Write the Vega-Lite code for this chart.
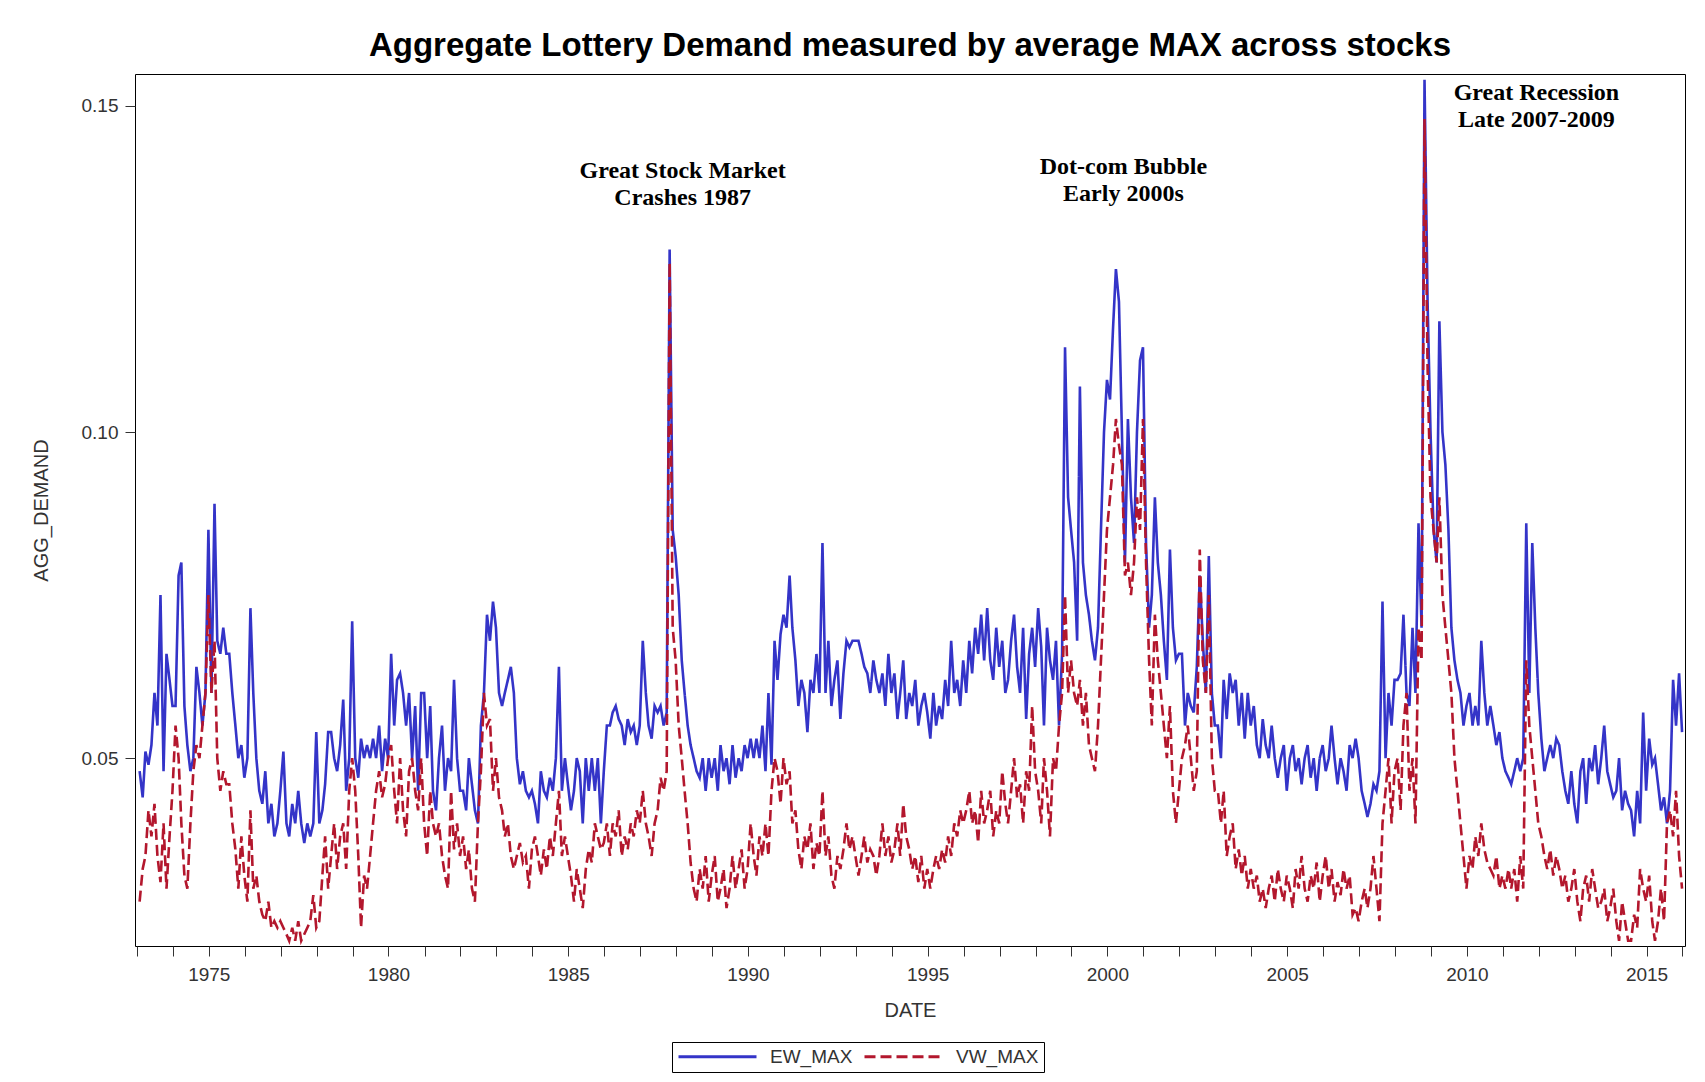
{
"$schema": "https://vega.github.io/schema/vega-lite/v6.json",
"width": 1550, "height": 872,
"autosize": {"type": "none"},
"padding": {"left": 135, "top": 74, "right": 20, "bottom": 136},
"background": "white",
"title": {"text": "Aggregate Lottery Demand measured by average MAX across stocks", "font": "Liberation Sans", "fontWeight": "bold", "fontSize": 33, "color": "#000", "anchor": "middle", "baseline": "alphabetic", "offset": -15},
"config": {
  "view": {"stroke": "#000", "strokeWidth": 1},
  "axis": {"grid": false, "domain": false, "labelFont": "Liberation Sans", "labelFontSize": 19, "labelColor": "#333", "tickColor": "#333", "tickSize": 10, "labelPadding": 7, "titleFont": "Liberation Sans", "titleFontSize": 20, "titleFontWeight": "normal", "titleColor": "#333"},
  "legend": {"orient": "none", "legendX": 537, "legendY": 968, "direction": "horizontal", "symbolType": "stroke", "symbolSize": 6084, "symbolStrokeWidth": 3, "clipHeight": 19, "labelFont": "Liberation Sans", "labelFontSize": 19, "labelColor": "#333", "labelOffset": 12, "columnPadding": 10, "padding": 5, "strokeColor": "#000", "fillColor": "#fff", "cornerRadius": 0}
},
"layer": [
{
"data": {"values": [
{"d":"1973-01-28","EW_MAX":0.048,"VW_MAX":0.028},{"d":"1973-02-28","EW_MAX":0.044,"VW_MAX":0.033},{"d":"1973-03-28","EW_MAX":0.051,"VW_MAX":0.035},{"d":"1973-04-28","EW_MAX":0.049,"VW_MAX":0.042},{"d":"1973-05-28","EW_MAX":0.052,"VW_MAX":0.038},{"d":"1973-06-28","EW_MAX":0.060,"VW_MAX":0.043},{"d":"1973-07-28","EW_MAX":0.055,"VW_MAX":0.035},{"d":"1973-08-28","EW_MAX":0.075,"VW_MAX":0.031},{"d":"1973-09-28","EW_MAX":0.048,"VW_MAX":0.040},{"d":"1973-10-28","EW_MAX":0.066,"VW_MAX":0.030},{"d":"1973-11-28","EW_MAX":0.062,"VW_MAX":0.038},{"d":"1973-12-28","EW_MAX":0.058,"VW_MAX":0.045},
{"d":"1974-01-28","EW_MAX":0.058,"VW_MAX":0.055},{"d":"1974-02-28","EW_MAX":0.078,"VW_MAX":0.050},{"d":"1974-03-28","EW_MAX":0.080,"VW_MAX":0.040},{"d":"1974-04-28","EW_MAX":0.058,"VW_MAX":0.032},{"d":"1974-05-28","EW_MAX":0.052,"VW_MAX":0.030},{"d":"1974-06-28","EW_MAX":0.048,"VW_MAX":0.040},{"d":"1974-07-28","EW_MAX":0.050,"VW_MAX":0.048},{"d":"1974-08-28","EW_MAX":0.064,"VW_MAX":0.052},{"d":"1974-09-28","EW_MAX":0.060,"VW_MAX":0.050},{"d":"1974-10-28","EW_MAX":0.055,"VW_MAX":0.055},{"d":"1974-11-28","EW_MAX":0.060,"VW_MAX":0.060},{"d":"1974-12-28","EW_MAX":0.085,"VW_MAX":0.075},
{"d":"1975-01-28","EW_MAX":0.060,"VW_MAX":0.060},{"d":"1975-02-28","EW_MAX":0.089,"VW_MAX":0.068},{"d":"1975-03-28","EW_MAX":0.068,"VW_MAX":0.050},{"d":"1975-04-28","EW_MAX":0.066,"VW_MAX":0.045},{"d":"1975-05-28","EW_MAX":0.070,"VW_MAX":0.048},{"d":"1975-06-28","EW_MAX":0.066,"VW_MAX":0.046},{"d":"1975-07-28","EW_MAX":0.066,"VW_MAX":0.046},{"d":"1975-08-28","EW_MAX":0.060,"VW_MAX":0.040},{"d":"1975-09-28","EW_MAX":0.055,"VW_MAX":0.036},{"d":"1975-10-28","EW_MAX":0.050,"VW_MAX":0.030},{"d":"1975-11-28","EW_MAX":0.052,"VW_MAX":0.038},{"d":"1975-12-28","EW_MAX":0.047,"VW_MAX":0.032},
{"d":"1976-01-28","EW_MAX":0.050,"VW_MAX":0.028},{"d":"1976-02-28","EW_MAX":0.073,"VW_MAX":0.042},{"d":"1976-03-28","EW_MAX":0.060,"VW_MAX":0.030},{"d":"1976-04-28","EW_MAX":0.050,"VW_MAX":0.032},{"d":"1976-05-28","EW_MAX":0.045,"VW_MAX":0.028},{"d":"1976-06-28","EW_MAX":0.043,"VW_MAX":0.026},{"d":"1976-07-28","EW_MAX":0.048,"VW_MAX":0.025},{"d":"1976-08-28","EW_MAX":0.040,"VW_MAX":0.028},{"d":"1976-09-28","EW_MAX":0.043,"VW_MAX":0.024},{"d":"1976-10-28","EW_MAX":0.038,"VW_MAX":0.025},{"d":"1976-11-28","EW_MAX":0.040,"VW_MAX":0.024},{"d":"1976-12-28","EW_MAX":0.045,"VW_MAX":0.025},
{"d":"1977-01-28","EW_MAX":0.051,"VW_MAX":0.024},{"d":"1977-02-28","EW_MAX":0.040,"VW_MAX":0.023},{"d":"1977-03-28","EW_MAX":0.038,"VW_MAX":0.022},{"d":"1977-04-28","EW_MAX":0.043,"VW_MAX":0.024},{"d":"1977-05-28","EW_MAX":0.040,"VW_MAX":0.022},{"d":"1977-06-28","EW_MAX":0.045,"VW_MAX":0.025},{"d":"1977-07-28","EW_MAX":0.040,"VW_MAX":0.022},{"d":"1977-08-28","EW_MAX":0.037,"VW_MAX":0.023},{"d":"1977-09-28","EW_MAX":0.040,"VW_MAX":0.024},{"d":"1977-10-28","EW_MAX":0.038,"VW_MAX":0.025},{"d":"1977-11-28","EW_MAX":0.040,"VW_MAX":0.029},{"d":"1977-12-28","EW_MAX":0.054,"VW_MAX":0.024},
{"d":"1978-01-28","EW_MAX":0.040,"VW_MAX":0.025},{"d":"1978-02-28","EW_MAX":0.042,"VW_MAX":0.032},{"d":"1978-03-28","EW_MAX":0.046,"VW_MAX":0.038},{"d":"1978-04-28","EW_MAX":0.054,"VW_MAX":0.030},{"d":"1978-05-28","EW_MAX":0.054,"VW_MAX":0.035},{"d":"1978-06-28","EW_MAX":0.050,"VW_MAX":0.040},{"d":"1978-07-28","EW_MAX":0.048,"VW_MAX":0.033},{"d":"1978-08-28","EW_MAX":0.052,"VW_MAX":0.038},{"d":"1978-09-28","EW_MAX":0.059,"VW_MAX":0.040},{"d":"1978-10-28","EW_MAX":0.045,"VW_MAX":0.033},{"d":"1978-11-28","EW_MAX":0.050,"VW_MAX":0.045},{"d":"1978-12-28","EW_MAX":0.071,"VW_MAX":0.050},
{"d":"1979-01-28","EW_MAX":0.050,"VW_MAX":0.045},{"d":"1979-02-28","EW_MAX":0.047,"VW_MAX":0.035},{"d":"1979-03-28","EW_MAX":0.053,"VW_MAX":0.024},{"d":"1979-04-28","EW_MAX":0.050,"VW_MAX":0.032},{"d":"1979-05-28","EW_MAX":0.052,"VW_MAX":0.030},{"d":"1979-06-28","EW_MAX":0.050,"VW_MAX":0.035},{"d":"1979-07-28","EW_MAX":0.053,"VW_MAX":0.040},{"d":"1979-08-28","EW_MAX":0.050,"VW_MAX":0.045},{"d":"1979-09-28","EW_MAX":0.055,"VW_MAX":0.048},{"d":"1979-10-28","EW_MAX":0.048,"VW_MAX":0.044},{"d":"1979-11-28","EW_MAX":0.053,"VW_MAX":0.046},{"d":"1979-12-28","EW_MAX":0.050,"VW_MAX":0.050},
{"d":"1980-01-28","EW_MAX":0.066,"VW_MAX":0.052},{"d":"1980-02-28","EW_MAX":0.055,"VW_MAX":0.045},{"d":"1980-03-28","EW_MAX":0.062,"VW_MAX":0.040},{"d":"1980-04-28","EW_MAX":0.063,"VW_MAX":0.050},{"d":"1980-05-28","EW_MAX":0.060,"VW_MAX":0.042},{"d":"1980-06-28","EW_MAX":0.055,"VW_MAX":0.038},{"d":"1980-07-28","EW_MAX":0.060,"VW_MAX":0.048},{"d":"1980-08-28","EW_MAX":0.050,"VW_MAX":0.050},{"d":"1980-09-28","EW_MAX":0.058,"VW_MAX":0.045},{"d":"1980-10-28","EW_MAX":0.045,"VW_MAX":0.042},{"d":"1980-11-28","EW_MAX":0.060,"VW_MAX":0.050},{"d":"1980-12-28","EW_MAX":0.060,"VW_MAX":0.040},
{"d":"1981-01-28","EW_MAX":0.050,"VW_MAX":0.035},{"d":"1981-02-28","EW_MAX":0.058,"VW_MAX":0.045},{"d":"1981-03-28","EW_MAX":0.045,"VW_MAX":0.040},{"d":"1981-04-28","EW_MAX":0.042,"VW_MAX":0.038},{"d":"1981-05-28","EW_MAX":0.050,"VW_MAX":0.040},{"d":"1981-06-28","EW_MAX":0.055,"VW_MAX":0.035},{"d":"1981-07-28","EW_MAX":0.045,"VW_MAX":0.032},{"d":"1981-08-28","EW_MAX":0.050,"VW_MAX":0.030},{"d":"1981-09-28","EW_MAX":0.048,"VW_MAX":0.045},{"d":"1981-10-28","EW_MAX":0.062,"VW_MAX":0.036},{"d":"1981-11-28","EW_MAX":0.050,"VW_MAX":0.040},{"d":"1981-12-28","EW_MAX":0.045,"VW_MAX":0.035},
{"d":"1982-01-28","EW_MAX":0.045,"VW_MAX":0.038},{"d":"1982-02-28","EW_MAX":0.042,"VW_MAX":0.033},{"d":"1982-03-28","EW_MAX":0.050,"VW_MAX":0.036},{"d":"1982-04-28","EW_MAX":0.046,"VW_MAX":0.030},{"d":"1982-05-28","EW_MAX":0.042,"VW_MAX":0.028},{"d":"1982-06-28","EW_MAX":0.040,"VW_MAX":0.040},{"d":"1982-07-28","EW_MAX":0.055,"VW_MAX":0.048},{"d":"1982-08-28","EW_MAX":0.060,"VW_MAX":0.060},{"d":"1982-09-28","EW_MAX":0.072,"VW_MAX":0.055},{"d":"1982-10-28","EW_MAX":0.068,"VW_MAX":0.056},{"d":"1982-11-28","EW_MAX":0.074,"VW_MAX":0.045},{"d":"1982-12-28","EW_MAX":0.070,"VW_MAX":0.050},
{"d":"1983-01-28","EW_MAX":0.060,"VW_MAX":0.044},{"d":"1983-02-28","EW_MAX":0.058,"VW_MAX":0.042},{"d":"1983-03-28","EW_MAX":0.060,"VW_MAX":0.038},{"d":"1983-04-28","EW_MAX":0.062,"VW_MAX":0.040},{"d":"1983-05-28","EW_MAX":0.064,"VW_MAX":0.035},{"d":"1983-06-28","EW_MAX":0.060,"VW_MAX":0.033},{"d":"1983-07-28","EW_MAX":0.050,"VW_MAX":0.035},{"d":"1983-08-28","EW_MAX":0.046,"VW_MAX":0.037},{"d":"1983-09-28","EW_MAX":0.048,"VW_MAX":0.034},{"d":"1983-10-28","EW_MAX":0.045,"VW_MAX":0.035},{"d":"1983-11-28","EW_MAX":0.044,"VW_MAX":0.030},{"d":"1983-12-28","EW_MAX":0.045,"VW_MAX":0.036},
{"d":"1984-01-28","EW_MAX":0.043,"VW_MAX":0.038},{"d":"1984-02-28","EW_MAX":0.040,"VW_MAX":0.035},{"d":"1984-03-28","EW_MAX":0.048,"VW_MAX":0.032},{"d":"1984-04-28","EW_MAX":0.045,"VW_MAX":0.036},{"d":"1984-05-28","EW_MAX":0.044,"VW_MAX":0.033},{"d":"1984-06-28","EW_MAX":0.047,"VW_MAX":0.038},{"d":"1984-07-28","EW_MAX":0.045,"VW_MAX":0.035},{"d":"1984-08-28","EW_MAX":0.050,"VW_MAX":0.040},{"d":"1984-09-28","EW_MAX":0.064,"VW_MAX":0.045},{"d":"1984-10-28","EW_MAX":0.045,"VW_MAX":0.035},{"d":"1984-11-28","EW_MAX":0.050,"VW_MAX":0.038},{"d":"1984-12-28","EW_MAX":0.046,"VW_MAX":0.035},
{"d":"1985-01-28","EW_MAX":0.042,"VW_MAX":0.032},{"d":"1985-02-28","EW_MAX":0.045,"VW_MAX":0.028},{"d":"1985-03-28","EW_MAX":0.050,"VW_MAX":0.033},{"d":"1985-04-28","EW_MAX":0.048,"VW_MAX":0.030},{"d":"1985-05-28","EW_MAX":0.040,"VW_MAX":0.027},{"d":"1985-06-28","EW_MAX":0.050,"VW_MAX":0.033},{"d":"1985-07-28","EW_MAX":0.045,"VW_MAX":0.036},{"d":"1985-08-28","EW_MAX":0.050,"VW_MAX":0.034},{"d":"1985-09-28","EW_MAX":0.045,"VW_MAX":0.040},{"d":"1985-10-28","EW_MAX":0.050,"VW_MAX":0.038},{"d":"1985-11-28","EW_MAX":0.040,"VW_MAX":0.036},{"d":"1985-12-28","EW_MAX":0.048,"VW_MAX":0.037},
{"d":"1986-01-28","EW_MAX":0.055,"VW_MAX":0.040},{"d":"1986-02-28","EW_MAX":0.055,"VW_MAX":0.035},{"d":"1986-03-28","EW_MAX":0.057,"VW_MAX":0.040},{"d":"1986-04-28","EW_MAX":0.058,"VW_MAX":0.038},{"d":"1986-05-28","EW_MAX":0.056,"VW_MAX":0.042},{"d":"1986-06-28","EW_MAX":0.055,"VW_MAX":0.035},{"d":"1986-07-28","EW_MAX":0.052,"VW_MAX":0.038},{"d":"1986-08-28","EW_MAX":0.056,"VW_MAX":0.036},{"d":"1986-09-28","EW_MAX":0.054,"VW_MAX":0.040},{"d":"1986-10-28","EW_MAX":0.055,"VW_MAX":0.038},{"d":"1986-11-28","EW_MAX":0.052,"VW_MAX":0.042},{"d":"1986-12-28","EW_MAX":0.055,"VW_MAX":0.040},
{"d":"1987-01-28","EW_MAX":0.068,"VW_MAX":0.045},{"d":"1987-02-28","EW_MAX":0.060,"VW_MAX":0.040},{"d":"1987-03-28","EW_MAX":0.055,"VW_MAX":0.038},{"d":"1987-04-28","EW_MAX":0.053,"VW_MAX":0.035},{"d":"1987-05-28","EW_MAX":0.058,"VW_MAX":0.040},{"d":"1987-06-28","EW_MAX":0.057,"VW_MAX":0.042},{"d":"1987-07-28","EW_MAX":0.058,"VW_MAX":0.047},{"d":"1987-08-28","EW_MAX":0.055,"VW_MAX":0.045},{"d":"1987-09-28","EW_MAX":0.057,"VW_MAX":0.048},{"d":"1987-10-28","EW_MAX":0.128,"VW_MAX":0.126},{"d":"1987-11-28","EW_MAX":0.085,"VW_MAX":0.070},{"d":"1987-12-28","EW_MAX":0.081,"VW_MAX":0.065},
{"d":"1988-01-28","EW_MAX":0.075,"VW_MAX":0.055},{"d":"1988-02-28","EW_MAX":0.065,"VW_MAX":0.050},{"d":"1988-03-28","EW_MAX":0.060,"VW_MAX":0.045},{"d":"1988-04-28","EW_MAX":0.055,"VW_MAX":0.040},{"d":"1988-05-28","EW_MAX":0.052,"VW_MAX":0.034},{"d":"1988-06-28","EW_MAX":0.050,"VW_MAX":0.030},{"d":"1988-07-28","EW_MAX":0.048,"VW_MAX":0.028},{"d":"1988-08-28","EW_MAX":0.047,"VW_MAX":0.033},{"d":"1988-09-28","EW_MAX":0.050,"VW_MAX":0.030},{"d":"1988-10-28","EW_MAX":0.045,"VW_MAX":0.035},{"d":"1988-11-28","EW_MAX":0.050,"VW_MAX":0.028},{"d":"1988-12-28","EW_MAX":0.047,"VW_MAX":0.032},
{"d":"1989-01-28","EW_MAX":0.050,"VW_MAX":0.035},{"d":"1989-02-28","EW_MAX":0.045,"VW_MAX":0.028},{"d":"1989-03-28","EW_MAX":0.052,"VW_MAX":0.030},{"d":"1989-04-28","EW_MAX":0.048,"VW_MAX":0.033},{"d":"1989-05-28","EW_MAX":0.050,"VW_MAX":0.027},{"d":"1989-06-28","EW_MAX":0.046,"VW_MAX":0.030},{"d":"1989-07-28","EW_MAX":0.052,"VW_MAX":0.035},{"d":"1989-08-28","EW_MAX":0.047,"VW_MAX":0.030},{"d":"1989-09-28","EW_MAX":0.050,"VW_MAX":0.033},{"d":"1989-10-28","EW_MAX":0.048,"VW_MAX":0.036},{"d":"1989-11-28","EW_MAX":0.052,"VW_MAX":0.030},{"d":"1989-12-28","EW_MAX":0.050,"VW_MAX":0.033},
{"d":"1990-01-28","EW_MAX":0.053,"VW_MAX":0.040},{"d":"1990-02-28","EW_MAX":0.050,"VW_MAX":0.035},{"d":"1990-03-28","EW_MAX":0.053,"VW_MAX":0.032},{"d":"1990-04-28","EW_MAX":0.050,"VW_MAX":0.038},{"d":"1990-05-28","EW_MAX":0.055,"VW_MAX":0.035},{"d":"1990-06-28","EW_MAX":0.048,"VW_MAX":0.040},{"d":"1990-07-28","EW_MAX":0.060,"VW_MAX":0.035},{"d":"1990-08-28","EW_MAX":0.049,"VW_MAX":0.045},{"d":"1990-09-28","EW_MAX":0.068,"VW_MAX":0.050},{"d":"1990-10-28","EW_MAX":0.062,"VW_MAX":0.048},{"d":"1990-11-28","EW_MAX":0.069,"VW_MAX":0.043},{"d":"1990-12-28","EW_MAX":0.072,"VW_MAX":0.050},
{"d":"1991-01-28","EW_MAX":0.070,"VW_MAX":0.046},{"d":"1991-02-28","EW_MAX":0.078,"VW_MAX":0.048},{"d":"1991-03-28","EW_MAX":0.070,"VW_MAX":0.040},{"d":"1991-04-28","EW_MAX":0.065,"VW_MAX":0.042},{"d":"1991-05-28","EW_MAX":0.058,"VW_MAX":0.036},{"d":"1991-06-28","EW_MAX":0.062,"VW_MAX":0.033},{"d":"1991-07-28","EW_MAX":0.060,"VW_MAX":0.038},{"d":"1991-08-28","EW_MAX":0.054,"VW_MAX":0.036},{"d":"1991-09-28","EW_MAX":0.062,"VW_MAX":0.040},{"d":"1991-10-28","EW_MAX":0.060,"VW_MAX":0.033},{"d":"1991-11-28","EW_MAX":0.066,"VW_MAX":0.037},{"d":"1991-12-28","EW_MAX":0.060,"VW_MAX":0.035},
{"d":"1992-01-28","EW_MAX":0.083,"VW_MAX":0.045},{"d":"1992-02-28","EW_MAX":0.060,"VW_MAX":0.035},{"d":"1992-03-28","EW_MAX":0.068,"VW_MAX":0.038},{"d":"1992-04-28","EW_MAX":0.058,"VW_MAX":0.032},{"d":"1992-05-28","EW_MAX":0.062,"VW_MAX":0.030},{"d":"1992-06-28","EW_MAX":0.065,"VW_MAX":0.035},{"d":"1992-07-28","EW_MAX":0.056,"VW_MAX":0.033},{"d":"1992-08-28","EW_MAX":0.063,"VW_MAX":0.036},{"d":"1992-09-28","EW_MAX":0.068,"VW_MAX":0.040},{"d":"1992-10-28","EW_MAX":0.067,"VW_MAX":0.036},{"d":"1992-11-28","EW_MAX":0.068,"VW_MAX":0.038},{"d":"1992-12-28","EW_MAX":0.068,"VW_MAX":0.035},
{"d":"1993-01-28","EW_MAX":0.068,"VW_MAX":0.032},{"d":"1993-02-28","EW_MAX":0.066,"VW_MAX":0.035},{"d":"1993-03-28","EW_MAX":0.064,"VW_MAX":0.038},{"d":"1993-04-28","EW_MAX":0.063,"VW_MAX":0.034},{"d":"1993-05-28","EW_MAX":0.060,"VW_MAX":0.036},{"d":"1993-06-28","EW_MAX":0.065,"VW_MAX":0.035},{"d":"1993-07-28","EW_MAX":0.062,"VW_MAX":0.032},{"d":"1993-08-28","EW_MAX":0.060,"VW_MAX":0.035},{"d":"1993-09-28","EW_MAX":0.063,"VW_MAX":0.040},{"d":"1993-10-28","EW_MAX":0.058,"VW_MAX":0.035},{"d":"1993-11-28","EW_MAX":0.066,"VW_MAX":0.038},{"d":"1993-12-28","EW_MAX":0.060,"VW_MAX":0.034},
{"d":"1994-01-28","EW_MAX":0.063,"VW_MAX":0.036},{"d":"1994-02-28","EW_MAX":0.056,"VW_MAX":0.040},{"d":"1994-03-28","EW_MAX":0.060,"VW_MAX":0.035},{"d":"1994-04-28","EW_MAX":0.065,"VW_MAX":0.043},{"d":"1994-05-28","EW_MAX":0.056,"VW_MAX":0.038},{"d":"1994-06-28","EW_MAX":0.060,"VW_MAX":0.036},{"d":"1994-07-28","EW_MAX":0.058,"VW_MAX":0.033},{"d":"1994-08-28","EW_MAX":0.062,"VW_MAX":0.035},{"d":"1994-09-28","EW_MAX":0.055,"VW_MAX":0.031},{"d":"1994-10-28","EW_MAX":0.058,"VW_MAX":0.035},{"d":"1994-11-28","EW_MAX":0.060,"VW_MAX":0.030},{"d":"1994-12-28","EW_MAX":0.057,"VW_MAX":0.033},
{"d":"1995-01-28","EW_MAX":0.053,"VW_MAX":0.030},{"d":"1995-02-28","EW_MAX":0.060,"VW_MAX":0.033},{"d":"1995-03-28","EW_MAX":0.055,"VW_MAX":0.035},{"d":"1995-04-28","EW_MAX":0.058,"VW_MAX":0.033},{"d":"1995-05-28","EW_MAX":0.056,"VW_MAX":0.036},{"d":"1995-06-28","EW_MAX":0.062,"VW_MAX":0.034},{"d":"1995-07-28","EW_MAX":0.058,"VW_MAX":0.038},{"d":"1995-08-28","EW_MAX":0.068,"VW_MAX":0.035},{"d":"1995-09-28","EW_MAX":0.060,"VW_MAX":0.040},{"d":"1995-10-28","EW_MAX":0.062,"VW_MAX":0.038},{"d":"1995-11-28","EW_MAX":0.058,"VW_MAX":0.042},{"d":"1995-12-28","EW_MAX":0.065,"VW_MAX":0.040},
{"d":"1996-01-28","EW_MAX":0.060,"VW_MAX":0.042},{"d":"1996-02-28","EW_MAX":0.068,"VW_MAX":0.045},{"d":"1996-03-28","EW_MAX":0.063,"VW_MAX":0.040},{"d":"1996-04-28","EW_MAX":0.070,"VW_MAX":0.042},{"d":"1996-05-28","EW_MAX":0.066,"VW_MAX":0.037},{"d":"1996-06-28","EW_MAX":0.072,"VW_MAX":0.045},{"d":"1996-07-28","EW_MAX":0.065,"VW_MAX":0.040},{"d":"1996-08-28","EW_MAX":0.073,"VW_MAX":0.042},{"d":"1996-09-28","EW_MAX":0.065,"VW_MAX":0.045},{"d":"1996-10-28","EW_MAX":0.062,"VW_MAX":0.038},{"d":"1996-11-28","EW_MAX":0.070,"VW_MAX":0.042},{"d":"1996-12-28","EW_MAX":0.064,"VW_MAX":0.040},
{"d":"1997-01-28","EW_MAX":0.068,"VW_MAX":0.048},{"d":"1997-02-28","EW_MAX":0.060,"VW_MAX":0.043},{"d":"1997-03-28","EW_MAX":0.062,"VW_MAX":0.040},{"d":"1997-04-28","EW_MAX":0.068,"VW_MAX":0.045},{"d":"1997-05-28","EW_MAX":0.072,"VW_MAX":0.050},{"d":"1997-06-28","EW_MAX":0.064,"VW_MAX":0.044},{"d":"1997-07-28","EW_MAX":0.060,"VW_MAX":0.046},{"d":"1997-08-28","EW_MAX":0.070,"VW_MAX":0.040},{"d":"1997-09-28","EW_MAX":0.056,"VW_MAX":0.048},{"d":"1997-10-28","EW_MAX":0.066,"VW_MAX":0.045},{"d":"1997-11-28","EW_MAX":0.070,"VW_MAX":0.058},{"d":"1997-12-28","EW_MAX":0.064,"VW_MAX":0.048},
{"d":"1998-01-28","EW_MAX":0.073,"VW_MAX":0.045},{"d":"1998-02-28","EW_MAX":0.067,"VW_MAX":0.040},{"d":"1998-03-28","EW_MAX":0.055,"VW_MAX":0.050},{"d":"1998-04-28","EW_MAX":0.070,"VW_MAX":0.045},{"d":"1998-05-28","EW_MAX":0.065,"VW_MAX":0.038},{"d":"1998-06-28","EW_MAX":0.062,"VW_MAX":0.050},{"d":"1998-07-28","EW_MAX":0.068,"VW_MAX":0.048},{"d":"1998-08-28","EW_MAX":0.055,"VW_MAX":0.055},{"d":"1998-09-28","EW_MAX":0.066,"VW_MAX":0.060},{"d":"1998-10-28","EW_MAX":0.113,"VW_MAX":0.075},{"d":"1998-11-28","EW_MAX":0.090,"VW_MAX":0.060},{"d":"1998-12-28","EW_MAX":0.085,"VW_MAX":0.065},
{"d":"1999-01-28","EW_MAX":0.080,"VW_MAX":0.060},{"d":"1999-02-28","EW_MAX":0.068,"VW_MAX":0.058},{"d":"1999-03-28","EW_MAX":0.107,"VW_MAX":0.062},{"d":"1999-04-28","EW_MAX":0.080,"VW_MAX":0.055},{"d":"1999-05-28","EW_MAX":0.075,"VW_MAX":0.060},{"d":"1999-06-28","EW_MAX":0.072,"VW_MAX":0.052},{"d":"1999-07-28","EW_MAX":0.068,"VW_MAX":0.050},{"d":"1999-08-28","EW_MAX":0.065,"VW_MAX":0.048},{"d":"1999-09-28","EW_MAX":0.070,"VW_MAX":0.055},{"d":"1999-10-28","EW_MAX":0.085,"VW_MAX":0.065},{"d":"1999-11-28","EW_MAX":0.100,"VW_MAX":0.075},{"d":"1999-12-28","EW_MAX":0.108,"VW_MAX":0.085},
{"d":"2000-01-28","EW_MAX":0.105,"VW_MAX":0.090},{"d":"2000-02-28","EW_MAX":0.116,"VW_MAX":0.095},{"d":"2000-03-28","EW_MAX":0.125,"VW_MAX":0.102},{"d":"2000-04-28","EW_MAX":0.120,"VW_MAX":0.098},{"d":"2000-05-28","EW_MAX":0.100,"VW_MAX":0.095},{"d":"2000-06-28","EW_MAX":0.080,"VW_MAX":0.078},{"d":"2000-07-28","EW_MAX":0.102,"VW_MAX":0.080},{"d":"2000-08-28","EW_MAX":0.090,"VW_MAX":0.075},{"d":"2000-09-28","EW_MAX":0.083,"VW_MAX":0.080},{"d":"2000-10-28","EW_MAX":0.100,"VW_MAX":0.090},{"d":"2000-11-28","EW_MAX":0.111,"VW_MAX":0.085},{"d":"2000-12-28","EW_MAX":0.113,"VW_MAX":0.102},
{"d":"2001-01-28","EW_MAX":0.083,"VW_MAX":0.080},{"d":"2001-02-28","EW_MAX":0.070,"VW_MAX":0.065},{"d":"2001-03-28","EW_MAX":0.075,"VW_MAX":0.055},{"d":"2001-04-28","EW_MAX":0.090,"VW_MAX":0.072},{"d":"2001-05-28","EW_MAX":0.080,"VW_MAX":0.065},{"d":"2001-06-28","EW_MAX":0.075,"VW_MAX":0.060},{"d":"2001-07-28","EW_MAX":0.068,"VW_MAX":0.055},{"d":"2001-08-28","EW_MAX":0.062,"VW_MAX":0.050},{"d":"2001-09-28","EW_MAX":0.082,"VW_MAX":0.058},{"d":"2001-10-28","EW_MAX":0.070,"VW_MAX":0.045},{"d":"2001-11-28","EW_MAX":0.065,"VW_MAX":0.040},{"d":"2001-12-28","EW_MAX":0.066,"VW_MAX":0.045},
{"d":"2002-01-28","EW_MAX":0.066,"VW_MAX":0.050},{"d":"2002-02-28","EW_MAX":0.055,"VW_MAX":0.052},{"d":"2002-03-28","EW_MAX":0.060,"VW_MAX":0.055},{"d":"2002-04-28","EW_MAX":0.058,"VW_MAX":0.050},{"d":"2002-05-28","EW_MAX":0.057,"VW_MAX":0.045},{"d":"2002-06-28","EW_MAX":0.064,"VW_MAX":0.048},{"d":"2002-07-28","EW_MAX":0.078,"VW_MAX":0.082},{"d":"2002-08-28","EW_MAX":0.068,"VW_MAX":0.065},{"d":"2002-09-28","EW_MAX":0.060,"VW_MAX":0.060},{"d":"2002-10-28","EW_MAX":0.081,"VW_MAX":0.075},{"d":"2002-11-28","EW_MAX":0.060,"VW_MAX":0.050},{"d":"2002-12-28","EW_MAX":0.055,"VW_MAX":0.045},
{"d":"2003-01-28","EW_MAX":0.055,"VW_MAX":0.045},{"d":"2003-02-28","EW_MAX":0.050,"VW_MAX":0.040},{"d":"2003-03-28","EW_MAX":0.062,"VW_MAX":0.045},{"d":"2003-04-28","EW_MAX":0.056,"VW_MAX":0.035},{"d":"2003-05-28","EW_MAX":0.063,"VW_MAX":0.038},{"d":"2003-06-28","EW_MAX":0.060,"VW_MAX":0.040},{"d":"2003-07-28","EW_MAX":0.062,"VW_MAX":0.033},{"d":"2003-08-28","EW_MAX":0.055,"VW_MAX":0.036},{"d":"2003-09-28","EW_MAX":0.060,"VW_MAX":0.032},{"d":"2003-10-28","EW_MAX":0.053,"VW_MAX":0.035},{"d":"2003-11-28","EW_MAX":0.060,"VW_MAX":0.030},{"d":"2003-12-28","EW_MAX":0.055,"VW_MAX":0.033},
{"d":"2004-01-28","EW_MAX":0.058,"VW_MAX":0.030},{"d":"2004-02-28","EW_MAX":0.052,"VW_MAX":0.032},{"d":"2004-03-28","EW_MAX":0.050,"VW_MAX":0.028},{"d":"2004-04-28","EW_MAX":0.056,"VW_MAX":0.030},{"d":"2004-05-28","EW_MAX":0.052,"VW_MAX":0.027},{"d":"2004-06-28","EW_MAX":0.050,"VW_MAX":0.030},{"d":"2004-07-28","EW_MAX":0.055,"VW_MAX":0.032},{"d":"2004-08-28","EW_MAX":0.050,"VW_MAX":0.028},{"d":"2004-09-28","EW_MAX":0.047,"VW_MAX":0.033},{"d":"2004-10-28","EW_MAX":0.050,"VW_MAX":0.030},{"d":"2004-11-28","EW_MAX":0.052,"VW_MAX":0.028},{"d":"2004-12-28","EW_MAX":0.045,"VW_MAX":0.032},
{"d":"2005-01-28","EW_MAX":0.050,"VW_MAX":0.030},{"d":"2005-02-28","EW_MAX":0.052,"VW_MAX":0.027},{"d":"2005-03-28","EW_MAX":0.048,"VW_MAX":0.033},{"d":"2005-04-28","EW_MAX":0.050,"VW_MAX":0.030},{"d":"2005-05-28","EW_MAX":0.046,"VW_MAX":0.035},{"d":"2005-06-28","EW_MAX":0.050,"VW_MAX":0.030},{"d":"2005-07-28","EW_MAX":0.052,"VW_MAX":0.028},{"d":"2005-08-28","EW_MAX":0.047,"VW_MAX":0.032},{"d":"2005-09-28","EW_MAX":0.050,"VW_MAX":0.030},{"d":"2005-10-28","EW_MAX":0.045,"VW_MAX":0.034},{"d":"2005-11-28","EW_MAX":0.050,"VW_MAX":0.028},{"d":"2005-12-28","EW_MAX":0.052,"VW_MAX":0.032},
{"d":"2006-01-28","EW_MAX":0.048,"VW_MAX":0.035},{"d":"2006-02-28","EW_MAX":0.050,"VW_MAX":0.030},{"d":"2006-03-28","EW_MAX":0.055,"VW_MAX":0.033},{"d":"2006-04-28","EW_MAX":0.050,"VW_MAX":0.028},{"d":"2006-05-28","EW_MAX":0.046,"VW_MAX":0.031},{"d":"2006-06-28","EW_MAX":0.050,"VW_MAX":0.029},{"d":"2006-07-28","EW_MAX":0.048,"VW_MAX":0.033},{"d":"2006-08-28","EW_MAX":0.045,"VW_MAX":0.030},{"d":"2006-09-28","EW_MAX":0.052,"VW_MAX":0.032},{"d":"2006-10-28","EW_MAX":0.050,"VW_MAX":0.026},{"d":"2006-11-28","EW_MAX":0.053,"VW_MAX":0.027},{"d":"2006-12-28","EW_MAX":0.050,"VW_MAX":0.025},
{"d":"2007-01-28","EW_MAX":0.045,"VW_MAX":0.028},{"d":"2007-02-28","EW_MAX":0.043,"VW_MAX":0.030},{"d":"2007-03-28","EW_MAX":0.041,"VW_MAX":0.027},{"d":"2007-04-28","EW_MAX":0.043,"VW_MAX":0.030},{"d":"2007-05-28","EW_MAX":0.046,"VW_MAX":0.035},{"d":"2007-06-28","EW_MAX":0.045,"VW_MAX":0.030},{"d":"2007-07-28","EW_MAX":0.048,"VW_MAX":0.025},{"d":"2007-08-28","EW_MAX":0.074,"VW_MAX":0.040},{"d":"2007-09-28","EW_MAX":0.050,"VW_MAX":0.045},{"d":"2007-10-28","EW_MAX":0.060,"VW_MAX":0.050},{"d":"2007-11-28","EW_MAX":0.055,"VW_MAX":0.040},{"d":"2007-12-28","EW_MAX":0.062,"VW_MAX":0.048},
{"d":"2008-01-28","EW_MAX":0.062,"VW_MAX":0.050},{"d":"2008-02-28","EW_MAX":0.063,"VW_MAX":0.042},{"d":"2008-03-28","EW_MAX":0.072,"VW_MAX":0.055},{"d":"2008-04-28","EW_MAX":0.060,"VW_MAX":0.060},{"d":"2008-05-28","EW_MAX":0.058,"VW_MAX":0.045},{"d":"2008-06-28","EW_MAX":0.070,"VW_MAX":0.050},{"d":"2008-07-28","EW_MAX":0.060,"VW_MAX":0.040},{"d":"2008-08-28","EW_MAX":0.086,"VW_MAX":0.070},{"d":"2008-09-28","EW_MAX":0.070,"VW_MAX":0.065},{"d":"2008-10-28","EW_MAX":0.154,"VW_MAX":0.148},{"d":"2008-11-28","EW_MAX":0.120,"VW_MAX":0.110},{"d":"2008-12-28","EW_MAX":0.100,"VW_MAX":0.090},
{"d":"2009-01-28","EW_MAX":0.085,"VW_MAX":0.085},{"d":"2009-02-28","EW_MAX":0.080,"VW_MAX":0.080},{"d":"2009-03-28","EW_MAX":0.117,"VW_MAX":0.090},{"d":"2009-04-28","EW_MAX":0.100,"VW_MAX":0.075},{"d":"2009-05-28","EW_MAX":0.095,"VW_MAX":0.070},{"d":"2009-06-28","EW_MAX":0.085,"VW_MAX":0.065},{"d":"2009-07-28","EW_MAX":0.070,"VW_MAX":0.060},{"d":"2009-08-28","EW_MAX":0.065,"VW_MAX":0.050},{"d":"2009-09-28","EW_MAX":0.062,"VW_MAX":0.045},{"d":"2009-10-28","EW_MAX":0.060,"VW_MAX":0.040},{"d":"2009-11-28","EW_MAX":0.055,"VW_MAX":0.035},{"d":"2009-12-28","EW_MAX":0.058,"VW_MAX":0.030},
{"d":"2010-01-28","EW_MAX":0.060,"VW_MAX":0.035},{"d":"2010-02-28","EW_MAX":0.055,"VW_MAX":0.033},{"d":"2010-03-28","EW_MAX":0.058,"VW_MAX":0.038},{"d":"2010-04-28","EW_MAX":0.055,"VW_MAX":0.035},{"d":"2010-05-28","EW_MAX":0.068,"VW_MAX":0.040},{"d":"2010-06-28","EW_MAX":0.060,"VW_MAX":0.036},{"d":"2010-07-28","EW_MAX":0.055,"VW_MAX":0.034},{"d":"2010-08-28","EW_MAX":0.058,"VW_MAX":0.033},{"d":"2010-09-28","EW_MAX":0.055,"VW_MAX":0.032},{"d":"2010-10-28","EW_MAX":0.052,"VW_MAX":0.035},{"d":"2010-11-28","EW_MAX":0.054,"VW_MAX":0.030},{"d":"2010-12-28","EW_MAX":0.050,"VW_MAX":0.032},
{"d":"2011-01-28","EW_MAX":0.048,"VW_MAX":0.030},{"d":"2011-02-28","EW_MAX":0.047,"VW_MAX":0.033},{"d":"2011-03-28","EW_MAX":0.046,"VW_MAX":0.030},{"d":"2011-04-28","EW_MAX":0.048,"VW_MAX":0.033},{"d":"2011-05-28","EW_MAX":0.050,"VW_MAX":0.028},{"d":"2011-06-28","EW_MAX":0.048,"VW_MAX":0.035},{"d":"2011-07-28","EW_MAX":0.050,"VW_MAX":0.030},{"d":"2011-08-28","EW_MAX":0.086,"VW_MAX":0.065},{"d":"2011-09-28","EW_MAX":0.060,"VW_MAX":0.055},{"d":"2011-10-28","EW_MAX":0.083,"VW_MAX":0.050},{"d":"2011-11-28","EW_MAX":0.070,"VW_MAX":0.045},{"d":"2011-12-28","EW_MAX":0.060,"VW_MAX":0.040},
{"d":"2012-01-28","EW_MAX":0.053,"VW_MAX":0.038},{"d":"2012-02-28","EW_MAX":0.048,"VW_MAX":0.035},{"d":"2012-03-28","EW_MAX":0.050,"VW_MAX":0.033},{"d":"2012-04-28","EW_MAX":0.052,"VW_MAX":0.036},{"d":"2012-05-28","EW_MAX":0.050,"VW_MAX":0.032},{"d":"2012-06-28","EW_MAX":0.053,"VW_MAX":0.035},{"d":"2012-07-28","EW_MAX":0.052,"VW_MAX":0.033},{"d":"2012-08-28","EW_MAX":0.048,"VW_MAX":0.030},{"d":"2012-09-28","EW_MAX":0.045,"VW_MAX":0.032},{"d":"2012-10-28","EW_MAX":0.043,"VW_MAX":0.028},{"d":"2012-11-28","EW_MAX":0.048,"VW_MAX":0.030},{"d":"2012-12-28","EW_MAX":0.043,"VW_MAX":0.033},
{"d":"2013-01-28","EW_MAX":0.040,"VW_MAX":0.028},{"d":"2013-02-28","EW_MAX":0.048,"VW_MAX":0.025},{"d":"2013-03-28","EW_MAX":0.050,"VW_MAX":0.030},{"d":"2013-04-28","EW_MAX":0.043,"VW_MAX":0.032},{"d":"2013-05-28","EW_MAX":0.050,"VW_MAX":0.028},{"d":"2013-06-28","EW_MAX":0.048,"VW_MAX":0.033},{"d":"2013-07-28","EW_MAX":0.052,"VW_MAX":0.030},{"d":"2013-08-28","EW_MAX":0.046,"VW_MAX":0.027},{"d":"2013-09-28","EW_MAX":0.050,"VW_MAX":0.028},{"d":"2013-10-28","EW_MAX":0.055,"VW_MAX":0.030},{"d":"2013-11-28","EW_MAX":0.048,"VW_MAX":0.025},{"d":"2013-12-28","EW_MAX":0.046,"VW_MAX":0.027},
{"d":"2014-01-28","EW_MAX":0.044,"VW_MAX":0.030},{"d":"2014-02-28","EW_MAX":0.045,"VW_MAX":0.025},{"d":"2014-03-28","EW_MAX":0.050,"VW_MAX":0.022},{"d":"2014-04-28","EW_MAX":0.042,"VW_MAX":0.028},{"d":"2014-05-28","EW_MAX":0.045,"VW_MAX":0.025},{"d":"2014-06-28","EW_MAX":0.043,"VW_MAX":0.022},{"d":"2014-07-28","EW_MAX":0.042,"VW_MAX":0.022},{"d":"2014-08-28","EW_MAX":0.038,"VW_MAX":0.026},{"d":"2014-09-28","EW_MAX":0.045,"VW_MAX":0.024},{"d":"2014-10-28","EW_MAX":0.040,"VW_MAX":0.033},{"d":"2014-11-28","EW_MAX":0.057,"VW_MAX":0.030},{"d":"2014-12-28","EW_MAX":0.045,"VW_MAX":0.028},
{"d":"2015-01-28","EW_MAX":0.053,"VW_MAX":0.032},{"d":"2015-02-28","EW_MAX":0.049,"VW_MAX":0.025},{"d":"2015-03-28","EW_MAX":0.050,"VW_MAX":0.022},{"d":"2015-04-28","EW_MAX":0.046,"VW_MAX":0.025},{"d":"2015-05-28","EW_MAX":0.042,"VW_MAX":0.030},{"d":"2015-06-28","EW_MAX":0.044,"VW_MAX":0.025},{"d":"2015-07-28","EW_MAX":0.040,"VW_MAX":0.040},{"d":"2015-08-28","EW_MAX":0.045,"VW_MAX":0.042},{"d":"2015-09-28","EW_MAX":0.062,"VW_MAX":0.038},{"d":"2015-10-28","EW_MAX":0.055,"VW_MAX":0.045},{"d":"2015-11-28","EW_MAX":0.063,"VW_MAX":0.035},{"d":"2015-12-28","EW_MAX":0.054,"VW_MAX":0.030}
]},
"transform": [{"fold": ["EW_MAX", "VW_MAX"], "as": ["series", "AGG_DEMAND"]}],
"mark": {"type": "line", "strokeWidth": 2.6, "strokeJoin": "miter"},
"encoding": {
  "x": {"field": "d", "type": "temporal", "title": "DATE",
        "scale": {"type": "utc", "domain": [{"year": 1972, "month": 12, "date": 12, "utc": true}, {"year": 2016, "month": 1, "date": 27, "utc": true}]},
        "axis": {"tickCount": {"interval": "year", "step": 1}, "labelExpr": "utcyear(datum.value) % 5 === 0 ? utcFormat(datum.value, '%Y') : ''", "labelOverlap": false, "labelFlush": false, "labelPadding": 9, "titlePadding": 16}},
  "y": {"field": "AGG_DEMAND", "type": "quantitative", "title": "AGG_DEMAND",
        "scale": {"domain": [0.0212, 0.1549], "nice": false, "zero": false},
        "axis": {"values": [0.05, 0.1, 0.15], "format": ".2f", "titlePadding": 30}},
  "color": {"field": "series", "type": "nominal", "title": null, "scale": {"domain": ["EW_MAX", "VW_MAX"], "range": ["#3434c8", "#b3172d"]}},
  "strokeDash": {"field": "series", "type": "nominal", "title": null, "scale": {"domain": ["EW_MAX", "VW_MAX"], "range": [[1, 0], [11, 5]]}}
}
},
{
"data": {"values": [
  {"d": "1988-03-08", "AGG_DEMAND": 0.1390, "label": ["Great Stock Market", "Crashes 1987"]},
  {"d": "2000-06-12", "AGG_DEMAND": 0.1396, "label": ["Dot-com Bubble", "Early 2000s"]},
  {"d": "2011-12-09", "AGG_DEMAND": 0.1509, "label": ["Great Recession", "Late 2007-2009"]}
]},
"mark": {"type": "text", "font": "Liberation Serif", "fontWeight": "bold", "fontSize": 24, "lineHeight": 27, "align": "center", "baseline": "alphabetic", "color": "#000"},
"encoding": {
  "x": {"field": "d", "type": "temporal", "title": "DATE"},
  "y": {"field": "AGG_DEMAND", "type": "quantitative", "title": "AGG_DEMAND"},
  "text": {"field": "label"}
}
}
]
}
